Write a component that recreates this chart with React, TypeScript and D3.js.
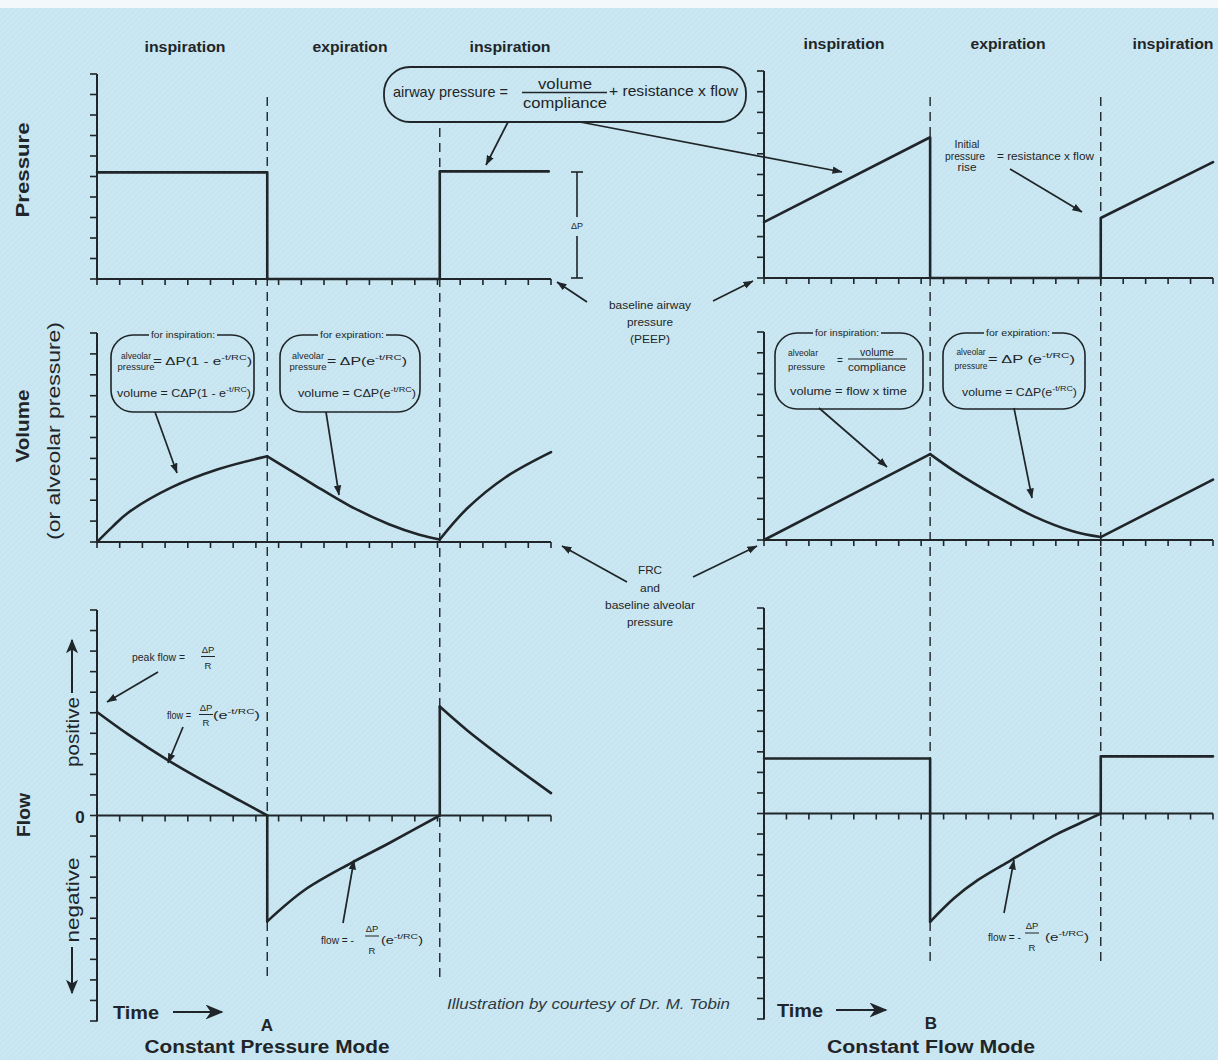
import React from 'react';
import * as d3 from 'd3';

const W = 1218;
const H = 1060;
const BG = '#c6e5f1';
const INK = '#1f2528';
const FONT = 'Liberation Sans, Arial, Helvetica, sans-serif';

// ---------- data ----------
const phaseLabels = ['inspiration', 'expiration', 'inspiration'];
const headerWidths = [81, 75, 81];
const timeTicks = d3.range(0, 21);
const levelTicks = d3.range(0, 11);
const flowTicks = d3.range(-10, 11);
const boundsA = [7.5, 15.1];
const boundsB = [7.4, 15.0];

type Seg = { smooth: boolean; pts: [number, number][] };

// A: constant pressure mode
const pressureA: Seg[] = [
  { smooth: false, pts: [[0, 5.2], [7.5, 5.2], [7.5, 0], [15.1, 0], [15.1, 5.25], [19.9, 5.25]] },
];
const volumeA: Seg[] = [
  { smooth: true, pts: [[0, 0], [0.7, 0.75], [1.37, 1.4], [3.26, 2.6], [5.33, 3.48], [7.5, 4.1]] },
  { smooth: true, pts: [[7.5, 4.1], [9.43, 2.82], [11.15, 1.72], [12.86, 0.85], [14.2, 0.35], [15.1, 0.12]] },
  { smooth: true, pts: [[15.1, 0.12], [16.3, 1.6], [18.0, 3.1], [20, 4.3]] },
];
const flowA: Seg[] = [
  { smooth: true, pts: [[0, 5.04], [1.37, 3.95], [3.08, 2.72], [4.8, 1.62], [6.34, 0.7], [7.5, 0]] },
  { smooth: false, pts: [[7.5, 0], [7.5, -5.15]] },
  { smooth: true, pts: [[7.5, -5.15], [9.1, -3.66], [11.15, -2.34], [12.86, -1.35], [15.1, 0]] },
  { smooth: false, pts: [[15.1, 0], [15.1, 5.3]] },
  { smooth: true, pts: [[15.1, 5.3], [16.3, 4.15], [18.0, 2.7], [20, 1.09]] },
];

// B: constant flow mode
const pressureB: Seg[] = [
  { smooth: false, pts: [[0, 2.7], [7.4, 6.8], [7.4, 0], [15.0, 0], [15.0, 2.9], [20, 5.6]] },
];
const volumeB: Seg[] = [
  { smooth: false, pts: [[0, 0], [7.4, 4.13]] },
  { smooth: true, pts: [[7.4, 4.13], [8.5, 3.3], [10.25, 2.16], [12.0, 1.15], [13.76, 0.42], [15.0, 0.14]] },
  { smooth: false, pts: [[15.0, 0.14], [20, 2.9]] },
];
const flowB: Seg[] = [
  { smooth: false, pts: [[0, 2.68], [7.4, 2.68], [7.4, -5.27]] },
  { smooth: true, pts: [[7.4, -5.27], [8.49, -4.1], [9.55, -3.22], [10.96, -2.3], [12.0, -1.64], [13.05, -1.0], [14.12, -0.45], [15.0, 0]] },
  { smooth: false, pts: [[15.0, 0], [15.0, 2.78], [20, 2.78]] },
];

// ---------- helpers ----------
function Txt(p: any) {
  const { x, y, size = 10, anchor = 'start', bold = false, italic = false, len, children, fill = INK, rotate } = p;
  const common: any = {
    fontSize: size,
    textAnchor: anchor,
    dominantBaseline: 'central',
    fontWeight: bold ? 'bold' : 'normal',
    fontStyle: italic ? 'italic' : 'normal',
    fill,
    fontFamily: FONT,
  };
  if (len) {
    common.textLength = len;
    common.lengthAdjust = 'spacingAndGlyphs';
  }
  if (rotate) {
    return (
      <text transform={`translate(${x},${y}) rotate(${rotate})`} {...common}>
        {children}
      </text>
    );
  }
  return (
    <text x={x} y={y} {...common}>
      {children}
    </text>
  );
}

function Exp({ size }: { size: number }) {
  return (
    <>
      <tspan dy={-size * 0.4} fontSize={size * 0.72}>-t/RC</tspan>
      <tspan dy={size * 0.4}>)</tspan>
    </>
  );
}

function Arrow({ x1, y1, x2, y2, w = 1.7 }: any) {
  return <line x1={x1} y1={y1} x2={x2} y2={y2} stroke={INK} strokeWidth={w} markerEnd="url(#ah)" />;
}

function Axis({ x, ys, ticks, xs }: any) {
  const [d0, d1] = ys.domain();
  const y0 = ys(0);
  return (
    <g stroke={INK} fill="none">
      <line x1={x} x2={x} y1={ys(d0) + 0.5} y2={ys(d1)} strokeWidth={2} />
      {ticks.map((t: number) => (
        <line key={'y' + t} x1={x - 7} x2={x} y1={ys(t)} y2={ys(t)} strokeWidth={1.6} />
      ))}
      <line x1={xs(0)} x2={xs(20)} y1={y0} y2={y0} strokeWidth={2.2} />
      {timeTicks.map((t: number) => (
        <line key={'x' + t} x1={xs(t)} x2={xs(t)} y1={y0} y2={y0 + 6} strokeWidth={1.6} />
      ))}
    </g>
  );
}

function Trace({ segs, xs, ys }: any) {
  const smooth = d3.line<[number, number]>().x((d) => xs(d[0])).y((d) => ys(d[1])).curve(d3.curveCatmullRom.alpha(0.5));
  const lin = d3.line<[number, number]>().x((d) => xs(d[0])).y((d) => ys(d[1]));
  return (
    <g fill="none" stroke={INK} strokeWidth={2.6} strokeLinejoin="round" strokeLinecap="round">
      {segs.map((s: Seg, i: number) => (
        <path key={i} d={(s.smooth ? smooth(s.pts) : lin(s.pts)) || ''} />
      ))}
    </g>
  );
}

function Panel({ xs, rows, bounds, dashTops, dashBottom, headerX, headerY, traces }: any) {
  return (
    <g>
      {bounds.map((b: number, i: number) => (
        <line key={i} x1={xs(b)} x2={xs(b)} y1={dashTops[i]} y2={dashBottom} stroke={INK} strokeWidth={1.4} strokeDasharray="9,6" />
      ))}
      <Axis x={xs(0)} ys={rows.p} ticks={levelTicks} xs={xs} />
      <Axis x={xs(0)} ys={rows.v} ticks={levelTicks} xs={xs} />
      <Axis x={xs(0)} ys={rows.f} ticks={flowTicks} xs={xs} />
      <Trace segs={traces.p} xs={xs} ys={rows.p} />
      <Trace segs={traces.v} xs={xs} ys={rows.v} />
      <Trace segs={traces.f} xs={xs} ys={rows.f} />
      {phaseLabels.map((l, i) => (
        <Txt key={i} x={headerX[i]} y={headerY} size={14} bold anchor="middle" len={headerWidths[i]}>{l}</Txt>
      ))}
    </g>
  );
}

function RBox({ x, y, w, h, label, lx }: any) {
  const lw = 64;
  return (
    <g>
      <rect x={x} y={y} width={w} height={h} rx={22} ry={22} fill="none" stroke={INK} strokeWidth={1.6} />
      <rect x={lx - lw / 2 - 2} y={y - 5} width={lw + 4} height={10} fill={BG} />
      <Txt x={lx} y={y} size={8.5} anchor="middle" len={lw}>{label}</Txt>
    </g>
  );
}

export default function App() {
  const xA = d3.scaleLinear().domain([0, 20]).range([97, 551]);
  const xB = d3.scaleLinear().domain([0, 20]).range([764, 1213]);
  const rowsA = {
    p: d3.scaleLinear().domain([0, 10]).range([279, 74]),
    v: d3.scaleLinear().domain([0, 10]).range([542, 333]),
    f: d3.scaleLinear().domain([-10, 10]).range([1021, 610]),
  };
  const rowsB = {
    p: d3.scaleLinear().domain([0, 10]).range([278, 71]),
    v: d3.scaleLinear().domain([0, 10]).range([540, 332]),
    f: d3.scaleLinear().domain([-10, 10]).range([1019, 608]),
  };

  return (
    <svg width={W} height={H} viewBox={`0 0 ${W} ${H}`} style={{ position: 'absolute', left: 0, top: 0 }} fontFamily={FONT}>
      <defs>
        <marker id="ah" viewBox="0 0 10 10" refX="9.5" refY="5" markerWidth="10" markerHeight="10" markerUnits="userSpaceOnUse" orient="auto">
          <path d="M0,1.3 L10,5 L0,8.7 z" fill={INK} />
        </marker>
        <marker id="bigah" viewBox="0 0 12 10" refX="11" refY="5" markerWidth="18" markerHeight="15" markerUnits="userSpaceOnUse" orient="auto">
          <path d="M0,0 L12,5 L0,10 L3.5,5 z" fill={INK} />
        </marker>
        <marker id="vah" viewBox="0 0 12 10" refX="11" refY="5" markerWidth="16" markerHeight="12" markerUnits="userSpaceOnUse" orient="auto">
          <path d="M0,0 L12,5 L0,10 L3,5 z" fill={INK} />
        </marker>
        <pattern id="hatch" width="4" height="4" patternUnits="userSpaceOnUse" patternTransform="rotate(45)">
          <line x1="0" y1="0" x2="0" y2="4" stroke="#ffffff" strokeOpacity="0.22" strokeWidth="1.4" />
        </pattern>
      </defs>

      <rect x={0} y={0} width={W} height={H} fill="#f3f8fa" />
      <rect x={0} y={8} width={W} height={H - 8} fill={BG} />
      <rect x={0} y={8} width={W} height={H - 8} fill="url(#hatch)" />

      <Panel xs={xA} rows={rowsA} bounds={boundsA} dashTops={[97, 128]} dashBottom={978}
        headerX={[185, 350, 510]} headerY={47} traces={{ p: pressureA, v: volumeA, f: flowA }} />
      <Panel xs={xB} rows={rowsB} bounds={boundsB} dashTops={[97, 97]} dashBottom={965}
        headerX={[844, 1008, 1173]} headerY={44} traces={{ p: pressureB, v: volumeB, f: flowB }} />

      {/* axis titles */}
      <Txt x={22} y={170} size={19} bold anchor="middle" rotate={-90} len={95}>Pressure</Txt>
      <Txt x={22} y={426} size={19} bold anchor="middle" rotate={-90} len={73}>Volume</Txt>
      <Txt x={54} y={431} size={18} anchor="middle" rotate={-90} len={218}>(or alveolar pressure)</Txt>
      <Txt x={23} y={815} size={19} bold anchor="middle" rotate={-90} len={44}>Flow</Txt>
      <Txt x={80} y={817} size={17} bold anchor="middle">0</Txt>
      <Txt x={72} y={732} size={19} anchor="middle" rotate={-90} len={70}>positive</Txt>
      <line x1={72} y1={693} x2={72} y2={640} stroke={INK} strokeWidth={2} markerEnd="url(#vah)" />
      <Txt x={72} y={900} size={19} anchor="middle" rotate={-90} len={85}>negative</Txt>
      <line x1={72} y1={947} x2={72} y2={993} stroke={INK} strokeWidth={2} markerEnd="url(#vah)" />

      {/* ΔP marker */}
      <g stroke={INK} strokeWidth={1.6}>
        <line x1={577} x2={577} y1={172} y2={217} />
        <line x1={577} x2={577} y1={236} y2={278} />
        <line x1={571} x2={583} y1={172} y2={172} />
        <line x1={571} x2={583} y1={278} y2={278} />
      </g>
      <Txt x={577} y={226} size={9} anchor="middle">ΔP</Txt>

      {/* airway pressure box */}
      <rect x={384} y={67} width={362} height={55} rx={26} ry={26} fill="none" stroke={INK} strokeWidth={1.8} />
      <Txt x={393} y={92} size={14.5} len={115}>airway pressure =</Txt>
      <Txt x={565} y={84} size={14.5} anchor="middle" len={54}>volume</Txt>
      <line x1={522} x2={607} y1={92.5} y2={92.5} stroke={INK} strokeWidth={1.3} />
      <Txt x={565} y={103} size={14.5} anchor="middle" len={84}>compliance</Txt>
      <Txt x={609} y={91} size={14.5} len={129}>+ resistance x flow</Txt>
      <Arrow x1={508} y1={122} x2={486} y2={165} />
      <Arrow x1={580} y1={122} x2={842} y2={172} />

      {/* initial pressure rise */}
      <Txt x={967} y={144} size={10} anchor="middle" len={25}>Initial</Txt>
      <Txt x={945} y={156} size={10} len={40}>pressure</Txt>
      <Txt x={967} y={167} size={10} anchor="middle" len={19}>rise</Txt>
      <Txt x={997} y={156} size={10} len={97}>= resistance x flow</Txt>
      <Arrow x1={1010} y1={169} x2={1082} y2={212} />

      {/* baseline airway pressure */}
      <Txt x={650} y={305} size={11} anchor="middle" len={82}>baseline airway</Txt>
      <Txt x={650} y={322} size={11} anchor="middle" len={46}>pressure</Txt>
      <Txt x={650} y={339} size={11} anchor="middle" len={40}>(PEEP)</Txt>
      <Arrow x1={587} y1={302} x2={557} y2={282} />
      <Arrow x1={713} y1={301} x2={753} y2={281} />

      {/* FRC */}
      <Txt x={650} y={570} size={11} anchor="middle" len={24}>FRC</Txt>
      <Txt x={650} y={588} size={11} anchor="middle" len={20}>and</Txt>
      <Txt x={650} y={605} size={11} anchor="middle" len={90}>baseline alveolar</Txt>
      <Txt x={650} y={622} size={11} anchor="middle" len={46}>pressure</Txt>
      <Arrow x1={627} y1={582} x2={562} y2={546} />
      <Arrow x1={693} y1={577} x2={757} y2={546} />

      {/* volume A boxes */}
      <RBox x={111} y={335} w={143} h={77} label="for inspiration:" lx={183} />
      <Txt x={136} y={356} size={9} anchor="middle" len={30}>alveolar</Txt>
      <Txt x={136} y={367} size={9} anchor="middle" len={37}>pressure</Txt>
      <Txt x={153} y={361} size={10.5} len={99}>= ΔP(1 - e<Exp size={10.5} /></Txt>
      <Txt x={117} y={393} size={10.5} len={134}>volume = CΔP(1 - e<Exp size={10.5} /></Txt>
      <Arrow x1={155} y1={412} x2={177} y2={473} />

      <RBox x={280} y={335} w={140} h={77} label="for expiration:" lx={352} />
      <Txt x={308} y={356} size={9} anchor="middle" len={32}>alveolar</Txt>
      <Txt x={308} y={367} size={9} anchor="middle" len={37}>pressure</Txt>
      <Txt x={327} y={361} size={10.5} len={80}>= ΔP(e<Exp size={10.5} /></Txt>
      <Txt x={298} y={393} size={10.5} len={118}>volume = CΔP(e<Exp size={10.5} /></Txt>
      <Arrow x1={326} y1={412} x2={339} y2={495} />

      {/* volume B boxes */}
      <RBox x={775} y={333} w={148} h={76} label="for inspiration:" lx={847} />
      <Txt x={788} y={353} size={9} len={30}>alveolar</Txt>
      <Txt x={788} y={367} size={9} len={37}>pressure</Txt>
      <Txt x={840} y={360} size={10} anchor="middle">=</Txt>
      <Txt x={877} y={352} size={10} anchor="middle" len={34}>volume</Txt>
      <line x1={848} x2={907} y1={359} y2={359} stroke={INK} strokeWidth={1.1} />
      <Txt x={877} y={367} size={10} anchor="middle" len={58}>compliance</Txt>
      <Txt x={790} y={391} size={10} len={117}>volume = flow x time</Txt>
      <Arrow x1={819} y1={408} x2={887} y2={467} />

      <RBox x={943} y={333} w={142} h={76} label="for expiration:" lx={1018} />
      <Txt x={971} y={352} size={9} anchor="middle" len={29}>alveolar</Txt>
      <Txt x={971} y={366} size={9} anchor="middle" len={33}>pressure</Txt>
      <Txt x={988} y={359} size={10.5} len={87}>= ΔP (e<Exp size={10.5} /></Txt>
      <Txt x={962} y={392} size={10.5} len={115}>volume = CΔP(e<Exp size={10.5} /></Txt>
      <Arrow x1={1014} y1={408} x2={1032} y2={498} />

      {/* flow A annotations */}
      <Txt x={132} y={657} size={10} len={53}>peak flow =</Txt>
      <Txt x={208} y={649} size={9.5} anchor="middle">ΔP</Txt>
      <line x1={201} x2={215} y1={656.5} y2={656.5} stroke={INK} strokeWidth={1} />
      <Txt x={208} y={665} size={9.5} anchor="middle">R</Txt>
      <Arrow x1={158} y1={672} x2={107} y2={702} />

      <Txt x={167} y={715} size={10} len={24}>flow =</Txt>
      <Txt x={206} y={707} size={9.5} anchor="middle">ΔP</Txt>
      <line x1={199} x2={213} y1={714.5} y2={714.5} stroke={INK} strokeWidth={1} />
      <Txt x={206} y={722} size={9.5} anchor="middle">R</Txt>
      <Txt x={213} y={715} size={10} len={47}>(e<Exp size={10} /></Txt>
      <Arrow x1={183} y1={727} x2={168} y2={763} />

      <Txt x={321} y={940} size={10} len={33}>flow = -</Txt>
      <Txt x={372} y={928} size={9.5} anchor="middle">ΔP</Txt>
      <line x1={365} x2={379} y1={936} y2={936} stroke={INK} strokeWidth={1} />
      <Txt x={372} y={950} size={9.5} anchor="middle">R</Txt>
      <Txt x={381} y={940} size={10} len={42}>(e<Exp size={10} /></Txt>
      <Arrow x1={343} y1={923} x2={354} y2={860} />

      {/* flow B annotation */}
      <Txt x={988} y={937} size={10} len={33}>flow = -</Txt>
      <Txt x={1032} y={925} size={9.5} anchor="middle">ΔP</Txt>
      <line x1={1025} x2={1039} y1={933} y2={933} stroke={INK} strokeWidth={1} />
      <Txt x={1032} y={947} size={9.5} anchor="middle">R</Txt>
      <Txt x={1045} y={937} size={10} len={44}>(e<Exp size={10} /></Txt>
      <Arrow x1={1004} y1={913} x2={1014} y2={860} />

      {/* bottom labels */}
      <Txt x={113} y={1012} size={19} bold len={46}>Time</Txt>
      <line x1={173} y1={1012} x2={222} y2={1012} stroke={INK} strokeWidth={2.2} markerEnd="url(#bigah)" />
      <Txt x={267} y={1025} size={17} bold anchor="middle">A</Txt>
      <Txt x={267} y={1047} size={18} bold anchor="middle" len={245}>Constant Pressure Mode</Txt>

      <Txt x={777} y={1010} size={19} bold len={46}>Time</Txt>
      <line x1={836} y1={1010} x2={886} y2={1010} stroke={INK} strokeWidth={2.2} markerEnd="url(#bigah)" />
      <Txt x={931} y={1023} size={17} bold anchor="middle">B</Txt>
      <Txt x={931} y={1047} size={18} bold anchor="middle" len={208}>Constant Flow Mode</Txt>

      <Txt x={447} y={1004} size={14} italic len={283} fill="#2e3a40">Illustration by courtesy of Dr. M. Tobin</Txt>
    </svg>
  );
}
